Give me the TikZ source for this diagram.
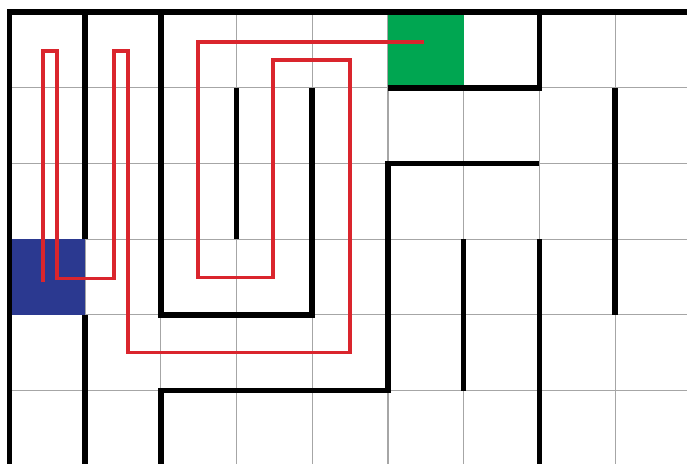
\documentclass[tikz,border=0pt]{standalone}
\definecolor{goalgreen}{RGB}{0,166,81}
\definecolor{startblue}{RGB}{43,57,144}
\definecolor{routered}{RGB}{218,37,45}
\begin{document}
\begin{tikzpicture}[wall/.style={line width=2.1pt}, route/.style={routered, line width=1.4pt}]
        \useasboundingbox (-0.125,0.034) rectangle (8.95,6.16);
        \clip (-0.125,0.034) rectangle (8.95,6.16);
        \draw [gray!70, line width=.4pt] (0,-1) grid (10,6);
        \fill [goalgreen] (5,5) rectangle (6,6);
        \fill [startblue] (0,2) rectangle (1,3);
        % walls
        \draw [wall] (0,-0.5)--(0,6)--(10,6);
        \draw [wall] (1,6)--(1,3);
        \draw [wall] (1,2)--(1,-0.5);
        \draw [wall] (2,6)--(2,2)--(4,2)--(4,5);
        \draw [wall] (3,5)--(3,3);
        \draw [wall] (5,5)--(7,5)--(7,6);
        \draw [wall] (8,5)--(8,2);
        \draw [wall] (7,4)--(5,4)--(5,1)--(2,1)--(2,-0.5);
        \draw [wall] (6,3)--(6,1);
        \draw [wall] (7,3)--(7,-0.5);
        % route from start to goal
        \coordinate (start) at (0.443,2.43);
        \coordinate (goal) at (5.476,5.603);
        \draw [route] (start)--(0.443,5.484)--(0.627,5.484)--(0.627,2.481)--(1.38,2.481)--(1.38,5.484)
                --(1.565,5.484)--(1.565,1.503)--(4.498,1.503)--(4.498,5.365)--(3.481,5.365)
                --(3.481,2.495)--(2.49,2.495)--(2.49,5.603)--(goal);
\end{tikzpicture}
\end{document}
